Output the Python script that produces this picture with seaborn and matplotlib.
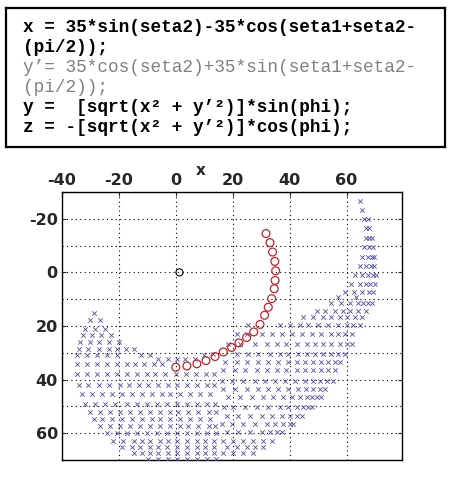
import numpy as np
import pandas as pd
import seaborn as sns
import matplotlib as mpl
import matplotlib.pyplot as plt
from matplotlib.ticker import MultipleLocator

# reachable points (blue x): (z level, x positions)
row_z = [-26.5, -23.2, -19.8, -16.4, -12.8, -9.5, -5.7, -2.4, 1.1, 4.2, 7.4, 9.3,
         11.6, 14.5, 15.2, 16.7, 17.9, 19.8, 21.0, 23.0, 23.2, 26.0, 26.7, 28.5,
         30.4, 31.0, 32.4, 33.5, 34.1, 36.6, 37.9, 40.4, 41.9, 43.5, 45.3, 46.6,
         49.1, 50.3, 52.2, 53.5, 54.7, 56.6, 57.2, 59.7, 60.1, 62.8, 65.3, 67.5, 69.7]
row_x = [
    [64.6],
    [65.5],
    [66.2, 67.4],
    [66.7, 68.0],
    [66.7, 67.8, 68.8],
    [66.2, 67.8, 69.4],
    [65.3, 67.4, 68.8, 69.8],
    [64.7, 67.0, 68.5, 69.7],
    [62.9, 65.3, 67.6, 69.4, 70.5],
    [61.5, 64.7, 66.7, 68.4, 69.9],
    [59.4, 62.7, 65.3, 67.8, 69.4],
    [57.0, 63.5],
    [54.7, 58.2, 61.2, 64.1, 65.8, 67.6, 69.0],
    [49.5, 52.4, 55.9, 58.8, 61.2, 64.1, 66.7],
    [-28.7],
    [44.8, 48.3, 51.8, 54.7, 57.6, 60.0, 62.9, 65.3],
    [-30.3, -26.8],
    [25.3, 36.6, 40.1, 43.6, 46.6, 50.1, 53.6, 57.1, 60.0, 62.3, 64.7],
    [-31.8, -28.3, -24.8],
    [21.4, 24.9, 30.2, 33.7, 37.2, 40.7, 44.2, 47.7, 51.2, 54.7, 57.1, 59.4, 62.0],
    [-32.6, -29.5, -26.3, -22.8],
    [-33.6, -30.3, -27.1, -23.6, -20.1],
    [18.5, 22.6, 27.8, 32.0, 35.4, 38.9, 42.5, 46.0, 48.9, 51.8, 54.7, 57.6, 60.0, 61.8],
    [-34.2, -30.7, -27.1, -23.6, -20.7, -17.4, -14.8],
    [13.2, 21.4, 25.5, 29.0, 33.1, 36.6, 39.5, 43.0, 46.0, 48.9, 51.8, 54.7, 57.1, 59.4],
    [-34.7, -31.2, -27.7, -24.2, -20.7, -12.3, -9.0, 9.9],
    [-6.1, -2.6, 0.4, 3.3, 6.8],
    [17.3, 21.4, 24.9, 29.0, 32.5, 36.0, 39.5, 42.5, 45.4, 48.3, 51.2, 53.6, 55.9, 57.6],
    [-34.7, -31.2, -27.7, -24.2, -20.7, -17.2, -14.3, -11.3, -7.8, -4.9],
    [16.7, 20.8, 24.3, 28.4, 31.9, 35.4, 38.9, 42.5, 45.4, 48.3, 51.2, 53.6, 55.9],
    [-34.7, -31.2, -27.7, -24.2, -20.7, -17.2, -13.7, -10.2, -7.2, -3.7, 0.0, 3.5, 7.0, 10.5, 13.5],
    [16.1, 19.6, 23.7, 27.8, 31.3, 34.8, 38.3, 41.8, 45.4, 48.3, 50.6, 53.0, 55.3],
    [-34.1, -30.7, -27.1, -23.6, -19.5, -16.6, -13.1, -9.6, -6.1, -2.6, 0.4, 3.9, 7.4, 10.9, 13.5],
    [16.7, 20.8, 24.9, 29.0, 32.5, 36.0, 39.5, 43.0, 45.9, 48.3, 50.6, 52.4],
    [-33.0, -29.5, -26.0, -22.5, -18.9, -15.4, -11.9, -8.4, -4.9, -2.0, 1.5, 5.0, 8.5, 12.0],
    [18.5, 22.6, 26.7, 30.8, 34.3, 37.8, 40.7, 43.6, 46.0, 47.8, 49.5, 51.2],
    [-31.8, -28.3, -24.8, -21.3, -17.2, -13.7, -10.2, -6.7, -3.2, 0.4, 3.9, 7.4, 10.9, 13.8],
    [16.9, 20.2, 24.3, 28.4, 32.5, 36.6, 39.5, 42.5, 44.8, 46.6, 47.8],
    [-30.1, -26.6, -23.1, -19.5, -16.0, -12.5, -9.0, -5.5, -2.0, 0.9, 4.4, 7.9, 11.5, 14.3],
    [17.9, 22.0, 26.0, 30.2, 33.7, 37.2, 40.1, 42.5, 44.2],
    [-28.9, -26.0, -22.5, -18.9, -15.4, -11.9, -8.4, -5.5, -2.0, 1.5, 5.0, 8.5, 12.0],
    [16.1, 19.6, 23.7, 27.8, 31.9, 34.8, 37.8, 40.1, 41.3],
    [-26.6, -23.1, -19.5, -16.0, -12.5, -9.0, -5.5, -2.0, 1.5, 4.4, 7.9, 11.5, 13.8],
    [17.9, 22.0, 26.0, 30.2, 33.1, 35.4, 37.2],
    [-24.2, -20.7, -17.2, -13.7, -10.2, -6.7, -3.2, 0.4, 3.9, 7.4, 10.9, 14.3],
    [-21.9, -18.4, -14.8, -11.9, -9.0, -5.5, -2.6, 0.4, 3.9, 7.4, 10.3, 13.4, 16.7, 20.2, 23.7, 27.2, 30.8, 33.7],
    [-18.9, -15.4, -12.5, -9.0, -6.1, -3.2, 0.4, 3.9, 7.4, 10.3, 13.4, 17.9, 21.4, 24.9, 27.8, 30.8],
    [-14.8, -11.9, -9.0, -6.1, -2.6, 0.4, 3.9, 7.4, 10.3, 13.4, 16.7, 20.2, 23.7, 27.2],
    [-9.6, -6.1, -2.6, 0.4, 3.9, 7.4, 10.9, 14.0],
]

# elbow sweep (red circles)
arm_x = [0.0, 3.9, 7.4, 10.6, 13.8, 16.7, 19.6, 22.2, 24.9, 27.4, 29.6,
         31.2, 32.5, 33.7, 34.6, 34.9, 35.1, 34.8, 34.0, 33.1, 31.7]
arm_z = [35.4, 34.9, 34.1, 32.9, 31.4, 29.7, 28.0, 26.3, 24.3, 22.2, 19.4,
         16.0, 13.0, 9.8, 6.1, 3.0, -0.6, -4.1, -7.6, -11.1, -14.5]

# shoulder (black circle)
base_x = [1.3]
base_z = [0.0]

x_ticks = [-40, -20, 0, 20, 40, 60]
z_ticks = [-20, 0, 20, 40, 60]

formula_lines = [
    'x = 35*sin(seta2)-35*cos(seta1+seta2-',
    '(pi/2));',
    'y\u2019= 35*cos(seta2)+35*sin(seta1+seta2-',
    '(pi/2));',
    'y =  [sqrt(x\u00b2 + y\u2019\u00b2)]*sin(phi);',
    'z = -[sqrt(x\u00b2 + y\u2019\u00b2)]*cos(phi);',
]
formula_bold = [True, True, False, False, True, True]
formula_color = ['black', 'black', '#808080', '#808080', 'black', 'black']

sns.set_style('white')
mpl.rc('axes', unicode_minus=False)

W, H = 455, 479
fig = plt.figure(figsize=(W / 100, H / 100), dpi=100)

# formula box on top
box = fig.add_axes([6 / W, 1 - 147 / H, 439 / W, 139 / H])
box.set_xticks([])
box.set_yticks([])
for sp in box.spines.values():
    sp.set_visible(True)
    sp.set_color('black')
    sp.set_linewidth(1.6)
line_y = [27, 48, 67, 87, 107, 127]
for txt, yy, bold, col in zip(formula_lines, line_y, formula_bold, formula_color):
    fig.text(23 / W, 1 - yy / H, txt, ha='left', va='center', fontsize=12.8,
             family='Liberation Mono', fontweight='bold' if bold else 'normal', color=col)

# workspace plot
ax = fig.add_axes([62 / W, 19 / H, 340 / W, 268 / H])

df_ws = pd.DataFrame({
    'x': [v for xs in row_x for v in xs],
    'z': [z for z, xs in zip(row_z, row_x) for _ in xs],
})
df_arm = pd.DataFrame({'x': arm_x, 'z': arm_z})
df_base = pd.DataFrame({'x': base_x, 'z': base_z})

sns.scatterplot(data=df_ws, x='x', y='z', marker='x', color='#4b4ba8', s=10,
                linewidth=0.6, ax=ax, zorder=3)
sns.scatterplot(data=df_arm, x='x', y='z', marker='o', facecolors='none',
                edgecolor='#c8202a', s=32, linewidth=0.9, ax=ax, zorder=4)
sns.scatterplot(data=df_base, x='x', y='z', marker='o', facecolors='none',
                edgecolor='black', s=26, linewidth=0.8, ax=ax, zorder=4)

ax.set_xlim(-40, 79.5)
ax.set_ylim(70, -30)
ax.xaxis.tick_top()
ax.set_xticks(x_ticks)
ax.set_yticks(z_ticks)
ax.yaxis.set_minor_locator(MultipleLocator(10))
ax.grid(True, which='major', color='black', linestyle=(0, (1, 3)), linewidth=0.8)
ax.grid(True, which='minor', axis='y', color='black', linestyle=(0, (1, 3)), linewidth=0.8)
ax.tick_params(which='both', direction='in', length=3, labelsize=11.5, pad=3,
               top=True, bottom=False, left=True, right=True)
ax.tick_params(which='minor', length=0)
for lbl in ax.get_xticklabels() + ax.get_yticklabels():
    lbl.set_fontweight('bold')
ax.set_xlabel('')
ax.set_ylabel('')
ax.text(0.409, 1.082, 'x', transform=ax.transAxes, ha='center', va='center',
        fontsize=11, fontweight='bold')
for sp in ax.spines.values():
    sp.set_color('black')
    sp.set_linewidth(1.0)

fig.savefig('out.png', dpi=100)
